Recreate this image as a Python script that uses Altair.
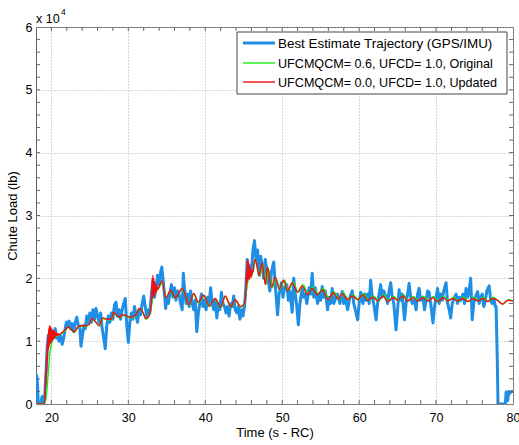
import altair as alt
import pandas as pd

# ---- data (time in s, load in units of 1e4 lb) ----
blue_t = [18.0, 18.1, 18.2, 18.3, 18.6, 18.8, 18.9, 19.1, 19.3, 19.45, 19.6, 19.75, 19.9, 20.05, 20.2, 20.35, 20.5, 20.65, 20.8, 21.0,
          21.2, 21.4, 21.6, 21.8, 21.95, 22.1, 22.3, 22.5, 22.7, 22.9, 23.1, 23.3, 23.5, 23.7, 23.85, 24.0, 24.2, 24.4, 24.6, 24.8,
          25.0, 25.2, 25.4, 25.6, 25.8, 26.0, 26.2, 26.4, 26.6, 26.8, 27.0, 27.2, 27.4, 27.6, 27.8, 28.0, 28.2, 28.4, 28.6, 28.8,
          29.0, 29.2, 29.4, 29.6, 29.8, 30.0, 30.2, 30.4, 30.6, 30.8, 31.0, 31.2, 31.4, 31.6, 31.8, 32.0, 32.2, 32.4, 32.6, 32.8,
          33.0, 33.2, 33.4, 33.6, 33.8, 34.0, 34.2, 34.35, 34.5, 34.7, 34.85, 35.0, 35.2, 35.4, 35.6, 35.8, 36.0, 36.2, 36.4, 36.6,
          36.8, 37.0, 37.15, 37.3, 37.5, 37.7, 37.9, 38.1, 38.3, 38.5, 38.7, 38.9, 39.1, 39.3, 39.5, 39.7, 39.9, 40.1, 40.3, 40.5,
          40.7, 40.9, 41.1, 41.3, 41.5, 41.7, 41.9, 42.1, 42.3, 42.5, 42.7, 42.9, 43.1, 43.3, 43.5, 43.7, 43.9, 44.1, 44.3, 44.5,
          44.7, 44.9, 45.1, 45.3, 45.45, 45.6, 45.8, 46.0, 46.2, 46.4, 46.6, 46.8, 47.0, 47.2, 47.4, 47.6, 47.8, 48.0, 48.2, 48.4,
          48.6, 48.9, 49.1, 49.4, 49.6, 49.9, 50.1, 50.3, 50.6, 50.8, 51.0, 51.3, 51.5, 51.7, 51.9, 52.1, 52.3, 52.6, 52.8, 53.0,
          53.2, 53.5, 53.7, 53.9, 54.1, 54.3, 54.6, 54.8, 55.0, 55.2, 55.4, 55.6, 55.9, 56.1, 56.3, 56.5, 56.7, 57.0, 57.2, 57.5,
          57.8, 58.0, 58.2, 58.5, 58.8, 59.1, 59.3, 59.6, 59.8, 60.0, 60.2, 60.5, 60.7, 60.9, 61.1, 61.3, 61.5, 61.7, 61.9, 62.2,
          62.4, 62.6, 62.8, 63.0, 63.2, 63.5, 63.7, 63.9, 64.1, 64.3, 64.5, 64.8, 65.0, 65.2, 65.4, 65.6, 65.9, 66.1, 66.3, 66.5,
          66.7, 66.9, 67.2, 67.4, 67.6, 67.8, 68.0, 68.3, 68.5, 68.7, 68.9, 69.1, 69.3, 69.6, 69.8, 70.0, 70.2, 70.4, 70.6, 70.8,
          71.0, 71.3, 71.5, 71.7, 71.9, 72.1, 72.4, 72.6, 72.8, 73.0, 73.2, 73.5, 73.7, 73.9, 74.1, 74.3, 74.5, 74.7, 74.9, 75.1,
          75.4, 75.6, 75.8, 76.0, 76.2, 76.4, 76.6, 76.9, 77.1, 77.3, 77.5, 77.7, 77.8, 77.95, 78.05, 79.0, 79.1, 79.3, 79.45, 79.6,
          79.8, 80.0]
blue_v = [0.05, 0.45, 0.3, 0.0, 0.0, 0.12, 0.0, 0.05, 0.5, 0.9, 1.1, 1.0, 1.12, 1.15, 1.05, 1.12, 1.2, 1.05, 1.1, 1.0,
          1.08, 0.95, 1.05, 1.2, 1.3, 1.25, 1.32, 1.2, 1.28, 1.15, 1.3, 1.38, 1.25, 1.2, 0.92, 1.05, 1.25, 1.2, 1.4, 1.3,
          1.45, 1.3, 1.5, 1.35, 1.52, 1.4, 1.3, 1.45, 1.2, 1.05, 0.88, 1.25, 1.4, 1.3, 1.45, 1.35, 1.58, 1.62, 1.4, 1.5,
          1.35, 1.5, 1.6, 1.68, 1.25, 0.98, 1.3, 1.45, 1.35, 1.55, 1.4, 1.3, 1.5, 1.42, 1.6, 1.72, 1.55, 1.4, 1.5, 1.45,
          1.75, 1.95, 1.7, 1.85, 2.05, 1.9, 2.1, 2.18, 2.0, 1.75, 1.52, 1.7, 1.6, 1.75, 1.9, 1.7, 1.85, 1.65, 1.8, 1.75,
          1.6, 1.5, 2.08, 1.85, 1.6, 1.75, 1.55, 1.8, 1.6, 1.5, 1.65, 1.15, 1.45, 1.6, 1.75, 1.55, 1.65, 1.5, 1.7, 1.6,
          1.85, 1.6, 1.5, 1.65, 1.37, 1.6, 1.5, 1.78, 1.6, 1.55, 1.45, 1.55, 1.4, 1.6, 1.55, 1.72, 1.5, 1.45, 1.55, 1.35,
          1.5, 1.4, 1.55, 1.9, 2.3, 2.0, 2.2, 2.1, 2.45, 2.6, 2.3, 2.45, 2.05, 2.35, 2.2, 2.0, 2.3, 2.13, 1.95, 1.8,
          2.1, 2.26, 1.9, 1.42, 1.75, 1.93, 1.7, 1.85, 1.9, 1.65, 1.8, 1.46, 2.0, 1.75, 1.55, 1.26, 1.6, 1.84, 1.7, 1.75,
          1.6, 1.85, 1.75, 2.08, 1.7, 1.85, 1.6, 1.75, 1.65, 1.87, 1.7, 1.8, 1.5, 1.7, 1.6, 1.84, 1.6, 1.7, 1.75, 1.6,
          1.79, 1.6, 1.7, 1.5, 1.7, 1.8, 1.6, 1.45, 1.34, 1.6, 1.78, 1.6, 1.75, 1.65, 1.75, 1.6, 1.97, 1.7, 1.6, 1.34,
          1.6, 1.75, 1.9, 1.7, 1.8, 1.7, 1.6, 1.8, 1.93, 1.7, 1.6, 1.18, 1.5, 1.82, 1.65, 1.75, 1.34, 1.6, 1.75, 1.92,
          1.7, 1.6, 1.65, 1.5, 1.75, 1.84, 1.65, 1.7, 1.5, 1.65, 1.8, 1.78, 1.6, 1.29, 1.55, 1.7, 1.84, 1.6, 1.75, 1.65,
          1.8, 1.93, 1.6, 1.5, 1.37, 1.6, 1.7, 1.75, 1.6, 1.7, 1.65, 1.75, 1.6, 1.84, 1.7, 1.8, 2.0, 1.34, 1.6, 1.7,
          1.79, 1.6, 1.7, 1.75, 1.55, 1.65, 1.8, 1.88, 1.65, 1.6, 1.68, 1.55, 1.55, 0.75, 0.0, 0.0, 0.19, 0.05, 0.2, 0.17,
          0.2, 0.2]

red_t = [18.0, 19.1, 19.2, 19.25, 19.3, 19.35, 19.4, 19.45, 19.5, 19.55, 19.6, 19.65, 19.7, 19.75, 19.8, 19.85, 19.9, 19.95, 20.0, 20.05,
         20.1, 20.15, 20.2, 20.25, 20.3, 20.35, 20.4, 20.45, 20.5, 20.55, 20.6, 20.7, 20.8, 20.9, 21.0, 21.3, 21.8, 22.2, 22.6, 23.0,
         23.4, 23.8, 24.3, 24.9, 25.3, 25.8, 26.2, 26.7, 27.3, 27.8, 28.1, 28.8, 29.2, 29.6, 30.3, 31.0, 31.4, 31.9, 32.3, 32.7,
         32.9, 33.0, 33.05, 33.1, 33.15, 33.2, 33.25, 33.3, 33.35, 33.4, 33.45, 33.5, 33.55, 33.6, 33.65, 33.7, 33.8, 34.0, 34.35, 34.9,
         35.5, 36.1, 37.0, 37.9, 38.5, 39.1, 39.8, 40.5, 41.3, 42.0, 42.6, 43.3, 43.9, 44.6, 45.1, 45.3, 45.35, 45.4, 45.45, 45.5,
         45.55, 45.6, 45.65, 45.7, 45.75, 45.8, 45.9, 46.0, 46.1, 46.2, 46.35, 46.5, 47.0, 47.4, 47.8, 48.1, 48.6, 49.1, 49.6, 50.2,
         50.7, 51.3, 52.0, 52.6, 53.3, 53.9, 54.6, 55.2, 56.0, 56.6, 57.3, 57.8, 58.5, 59.1, 59.8, 60.5, 61.1, 61.8, 62.4, 63.1,
         63.7, 64.4, 65.0, 65.7, 66.3, 67.0, 67.6, 68.3, 68.9, 69.6, 70.2, 70.9, 71.5, 72.2, 72.8, 73.5, 74.1, 74.8, 75.4, 76.1,
         76.7, 77.3, 78.0, 78.6, 79.3, 80.0]
red_v = [0.0, 0.0, 0.2, 0.5, 0.3, 0.75, 0.5, 0.95, 0.7, 1.1, 0.85, 1.2, 0.9, 1.25, 0.95, 1.24, 0.97, 1.22, 0.98, 1.2,
         1.0, 1.18, 1.02, 1.17, 1.04, 1.16, 1.05, 1.15, 1.07, 1.14, 1.08, 1.13, 1.09, 1.12, 1.1, 1.13, 1.18, 1.23, 1.18, 1.15,
         1.22, 1.25, 1.24, 1.27, 1.36, 1.3, 1.25, 1.37, 1.35, 1.35, 1.46, 1.38, 1.42, 1.41, 1.38, 1.42, 1.52, 1.46, 1.36, 1.41,
         1.5, 1.65, 1.75, 2.0, 1.68, 2.05, 1.7, 2.0, 1.72, 1.95, 1.75, 1.92, 1.77, 1.9, 1.78, 1.88, 1.82, 1.87, 1.96, 1.69,
         1.81, 1.69, 1.84, 1.58, 1.76, 1.62, 1.73, 1.56, 1.68, 1.54, 1.72, 1.55, 1.66, 1.55, 1.6, 1.8, 2.1, 1.9, 2.28, 1.95,
         2.3, 2.0, 2.25, 1.98, 2.2, 2.0, 2.15, 2.02, 2.12, 2.1, 2.25, 2.3, 2.05, 2.25, 1.9, 2.18, 1.86, 2.02, 1.83, 1.97,
         1.8, 1.93, 1.78, 1.88, 1.74, 1.84, 1.74, 1.82, 1.66, 1.77, 1.67, 1.76, 1.66, 1.72, 1.66, 1.74, 1.65, 1.7, 1.64, 1.72,
         1.63, 1.69, 1.65, 1.72, 1.64, 1.69, 1.64, 1.69, 1.64, 1.69, 1.63, 1.69, 1.64, 1.68, 1.64, 1.68, 1.63, 1.68, 1.64, 1.68,
         1.63, 1.68, 1.65, 1.59, 1.65, 1.64]

green_t = [18.0, 19.1, 19.4, 19.6, 19.8, 20.0, 20.3, 20.7, 21.0, 21.3, 21.8, 22.2, 22.6, 23.0, 23.4, 23.8, 24.3, 24.9, 25.3, 25.8,
           26.2, 26.7, 27.3, 27.8, 28.1, 28.8, 29.2, 29.6, 30.3, 31.0, 31.4, 31.9, 32.3, 32.7, 33.0, 33.3, 33.6, 34.0, 34.4, 34.9,
           35.5, 36.1, 37.0, 37.9, 38.5, 39.1, 39.8, 40.5, 41.3, 42.0, 42.6, 43.3, 43.9, 44.6, 45.1, 45.4, 45.6, 45.8, 46.0, 46.2,
           46.5, 46.8, 47.1, 47.5, 47.9, 48.2, 48.7, 49.2, 49.7, 50.3, 50.8, 51.4, 52.1, 52.7, 53.4, 54.0, 54.7, 55.3, 56.1, 56.7,
           57.4, 57.9, 58.6, 59.2, 59.9, 60.6, 61.2, 61.9, 62.5, 63.2, 63.8, 64.5, 65.1, 65.8, 66.4, 67.1, 67.7, 68.4, 69.0, 69.7,
           70.3, 71.0, 71.6, 72.3, 72.9, 73.6, 74.2, 74.9, 75.5, 76.2, 76.8, 77.4, 78.1, 78.7, 79.4, 80.0]
green_v = [0.0, 0.0, 0.2, 0.5, 0.8, 0.95, 1.05, 1.08, 1.1, 1.12, 1.17, 1.22, 1.18, 1.14, 1.21, 1.24, 1.23, 1.26, 1.35, 1.3,
           1.24, 1.36, 1.34, 1.34, 1.45, 1.37, 1.41, 1.4, 1.37, 1.41, 1.51, 1.45, 1.35, 1.4, 1.55, 1.75, 1.8, 1.85, 1.93, 1.7,
           1.8, 1.68, 1.83, 1.57, 1.75, 1.61, 1.72, 1.55, 1.67, 1.53, 1.71, 1.54, 1.65, 1.54, 1.59, 1.85, 2.0, 2.1, 2.05, 2.1,
           2.28, 2.15, 2.03, 2.22, 1.9, 2.15, 1.85, 2.0, 1.83, 1.97, 1.8, 1.94, 1.78, 1.9, 1.75, 1.86, 1.75, 1.84, 1.67, 1.79,
           1.67, 1.78, 1.66, 1.74, 1.66, 1.76, 1.65, 1.72, 1.64, 1.74, 1.63, 1.71, 1.65, 1.74, 1.64, 1.71, 1.64, 1.71, 1.64, 1.71,
           1.63, 1.71, 1.64, 1.7, 1.64, 1.7, 1.63, 1.7, 1.64, 1.7, 1.63, 1.7, 1.64, 1.59, 1.66, 1.64]

x_major = [20, 30, 40, 50, 60, 70, 80]
x_minor = [20, 22, 24, 26, 28, 30, 32, 34, 36, 38, 40, 42, 44, 46, 48, 50, 52, 54, 56, 58, 60, 62, 64, 66, 68, 70, 72, 74, 76, 78]
y_major = [0, 1, 2, 3, 4, 5, 6]
y_minor = [0.2, 0.4, 0.6, 0.8, 1.0, 1.2, 1.4, 1.6, 1.8, 2.0, 2.2, 2.4, 2.6, 2.8, 3.0, 3.2, 3.4, 3.6, 3.8, 4.0,
           4.2, 4.4, 4.6, 4.8, 5.0, 5.2, 5.4, 5.6, 5.8]

legend_labels = ["Best Estimate Trajectory (GPS/IMU)",
                 "UFCMQCM= 0.6, UFCD= 1.0, Original",
                 "UFCMQCM= 0.0, UFCD= 1.0, Updated"]
colors = ["#1f8fe5", "#14f014", "#f01010"]

W, H = 477, 377
FONT = "Liberation Sans"

blue_df = pd.DataFrame({"t": blue_t, "v": blue_v})
green_df = pd.DataFrame({"t": green_t, "v": green_v})
red_df = pd.DataFrame({"t": red_t, "v": red_v})

xs = alt.Scale(domain=[18, 80], nice=False, zero=False)
ys = alt.Scale(domain=[0, 6], nice=False)

xax = alt.Axis(values=x_major, title="Time (s - RC)", grid=True, ticks=False, domain=False,
               labelFontSize=12.5, labelPadding=7, titleFontSize=13, titleFontWeight="normal",
               titlePadding=3, labelColor="#000", titleColor="#000", labelFont=FONT, titleFont=FONT,
               gridDash=[1, 2], gridColor="#b0b0b0", labelFlush=False)
yax = alt.Axis(values=y_major, title="Chute Load (lb)", grid=True, ticks=False, domain=False,
               labelFontSize=12.5, labelPadding=4, titleFontSize=13, titleFontWeight="normal",
               titlePadding=6, labelColor="#000", titleColor="#000", labelFont=FONT, titleFont=FONT,
               gridDash=[1, 2], gridColor="#b0b0b0", format="d", labelFlush=False)

blue = alt.Chart(blue_df).mark_line(color=colors[0], strokeWidth=3, clip=True, strokeJoin="round").encode(
    x=alt.X("t:Q", scale=xs, axis=xax), y=alt.Y("v:Q", scale=ys, axis=yax), order="t:Q")
green = alt.Chart(green_df).mark_line(color=colors[1], strokeWidth=1.4, clip=True, interpolate="monotone").encode(
    x=alt.X("t:Q", scale=xs, axis=xax), y=alt.Y("v:Q", scale=ys, axis=yax), order="t:Q")
red = alt.Chart(red_df).mark_line(color=colors[2], strokeWidth=1.4, clip=True, interpolate="monotone").encode(
    x=alt.X("t:Q", scale=xs, axis=xax), y=alt.Y("v:Q", scale=ys, axis=yax), order="t:Q")

xt = pd.DataFrame({"t": x_minor})
yt = pd.DataFrame({"v": y_minor})
tick_col = "#666666"
xt_bot = alt.Chart(xt).mark_rule(color=tick_col).encode(x=alt.X("t:Q", scale=xs, axis=xax), y=alt.value(H), y2=alt.value(H - 4))
xt_top = alt.Chart(xt).mark_rule(color=tick_col).encode(x=alt.X("t:Q", scale=xs, axis=xax), y=alt.value(0), y2=alt.value(4))
yt_l = alt.Chart(yt).mark_rule(color=tick_col).encode(y=alt.Y("v:Q", scale=ys, axis=yax), x=alt.value(0), x2=alt.value(4))
yt_r = alt.Chart(yt).mark_rule(color=tick_col).encode(y=alt.Y("v:Q", scale=ys, axis=yax), x=alt.value(W), x2=alt.value(W - 4))

# legend
leg_df = pd.DataFrame({"label": legend_labels, "color": colors, "row": [0, 1, 2], "w": [3.0, 1.4, 1.4]})
box = alt.Chart(pd.DataFrame({"a": [0]})).mark_rect(fill="white", stroke="#444444", strokeWidth=1).encode(
    x=alt.value(201), x2=alt.value(471), y=alt.value(5), y2=alt.value(67))
row_y = {0: 16, 1: 36, 2: 55}
row_fs = {0: 13.4, 1: 12.6, 2: 12.6}
leg_lines = []
leg_texts = []
for i in range(3):
    d = leg_df.iloc[[i]]
    leg_lines.append(alt.Chart(d).mark_rule(color=colors[i], strokeWidth=float(d["w"].iloc[0])).encode(
        x=alt.value(207), x2=alt.value(239), y=alt.value(row_y[i])))
    leg_texts.append(alt.Chart(d).mark_text(align="left", baseline="middle", fontSize=row_fs[i], font=FONT, color="#000").encode(
        x=alt.value(242), y=alt.value(row_y[i] + 0.5), text="label:N"))

exp1 = alt.Chart(pd.DataFrame({"s": ["x 10"]})).mark_text(align="left", baseline="alphabetic", fontSize=12.5, font=FONT, color="#000").encode(
    x=alt.value(0), y=alt.value(-4), text="s:N")
exp2 = alt.Chart(pd.DataFrame({"s": ["4"]})).mark_text(align="left", baseline="alphabetic", fontSize=8.5, font=FONT, color="#000").encode(
    x=alt.value(25), y=alt.value(-12), text="s:N")

chart = alt.layer(blue, green, red, xt_bot, xt_top, yt_l, yt_r, box, *leg_lines, *leg_texts, exp1, exp2).properties(
    width=W, height=H,
    autosize=alt.AutoSizeParams(type="none"),
    padding={"left": 36, "top": 27, "right": 6, "bottom": 41},
    background="white",
).configure_view(stroke="#666666", strokeWidth=1)

chart.save("out.html", embed_options={"renderer": "svg", "actions": False})
